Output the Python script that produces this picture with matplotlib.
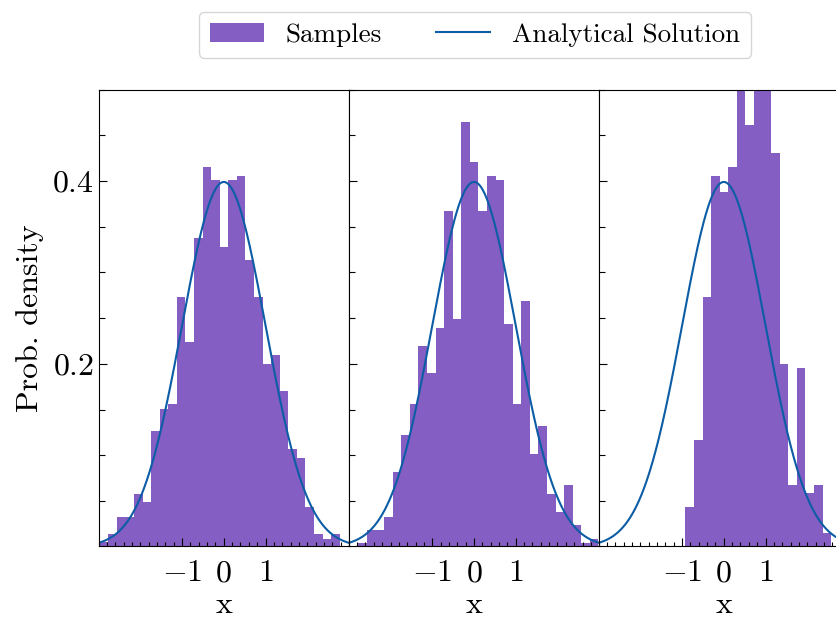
import numpy as np
import matplotlib
matplotlib.use("Agg")
import matplotlib.pyplot as plt
from matplotlib.ticker import MultipleLocator, FixedLocator

# ========== 字体 / 样式 ==========
plt.rcParams['font.family'] = 'serif'
plt.rcParams['font.serif'] = ['cmr10']
plt.rcParams['mathtext.fontset'] = 'cm'
plt.rcParams['axes.formatter.use_mathtext'] = True
plt.rcParams['axes.unicode_minus'] = True

BAR_COLOR = '#845EC2'
LINE_COLOR = '#0C5DA5'

# ========== 数据 ==========
bin_width = 0.2054

# 面板 1
p1_start = -2.975
p1_heights = [0.0055, 0.0139, 0.033, 0.033, 0.058, 0.0487, 0.1264, 0.1505,
              0.156, 0.2736, 0.2242, 0.3374, 0.4154, 0.4007, 0.3275, 0.4007,
              0.4055, 0.3132, 0.2736, 0.2, 0.2099, 0.1703, 0.1066, 0.097,
              0.0432, 0.0139, 0.0091, 0.0139]

# 面板 2
p2_start = -2.77
p2_heights = [0.0044, 0.0187, 0.0187, 0.033, 0.0824, 0.122, 0.156, 0.2198,
              0.1905, 0.2396, 0.367, 0.2495, 0.4648, 0.4209, 0.367, 0.4055,
              0.4007, 0.244, 0.156, 0.2692, 0.1018, 0.1319, 0.058, 0.0385,
              0.0678, 0.0238, 0.0044, 0.0088]

# 面板 3（三个柱子超出上边界）
p3_start = -0.918
p3_heights = [0.0432, 0.1165, 0.2736, 0.4055, 0.3875, 0.415, 0.55, 0.4608,
              0.61, 0.59, 0.4308, 0.2, 0.0681, 0.1952, 0.0586, 0.0681, 0.0147]

panels = [(p1_start, p1_heights), (p2_start, p2_heights), (p3_start, p3_heights)]

# 解析解：标准正态分布
mu, sigma = 0.0, 1.0
x_curve = np.linspace(-3.5, 3.5, 500)
y_curve = np.exp(-0.5 * ((x_curve - mu) / sigma) ** 2) / (sigma * np.sqrt(2 * np.pi))

# ========== 绘图 ==========
W, H = 837, 621
fig = plt.figure(figsize=(W / 100, H / 100), dpi=100)

ax_w = 250.4 / W
ax_b = (H - 546) / H
ax_h = (546 - 89.5) / H
lefts = [98.6, 348.8, 598.6]

axes = []
for i, (start, heights) in enumerate(panels):
    ax = fig.add_axes([lefts[i] / W, ax_b, ax_w, ax_h],
                      sharey=axes[0] if axes else None)
    axes.append(ax)
    heights = np.array(heights)
    edges = start + bin_width * np.arange(len(heights) + 1)
    centers = 0.5 * (edges[:-1] + edges[1:])
    ax.hist(centers, bins=edges, weights=heights, color=BAR_COLOR,
            label='Samples')
    ax.plot(x_curve, y_curve, color=LINE_COLOR, lw=1.5,
            label='Analytical Solution')

    ax.set_xlim(-3, 3)
    ax.set_ylim(0.001, 0.5)
    ax.xaxis.set_major_locator(FixedLocator([-1, 0, 1]))
    ax.set_xticklabels([r'$-1$', r'$0$', r'$1$'])
    ax.xaxis.set_minor_locator(MultipleLocator(0.2))
    ax.yaxis.set_major_locator(FixedLocator([0.2, 0.4]))
    ax.yaxis.set_minor_locator(MultipleLocator(0.05))
    ax.tick_params(which='both', direction='in', top=False, right=False,
                   labelsize=23, width=0.8)
    ax.tick_params(which='major', length=6)
    ax.tick_params(axis='x', which='major', pad=10)
    ax.tick_params(axis='x', which='minor', length=3)
    ax.tick_params(axis='y', which='minor', length=4)
    ax.set_xlabel('x', fontsize=23, labelpad=3)
    if i == 0:
        ax.set_yticklabels([r'$0.2$', r'$0.4$'])
        ax.set_ylabel('Prob. density', fontsize=23, labelpad=6)
    else:
        ax.tick_params(axis='y', labelleft=False)

handles, labels = axes[0].get_legend_handles_labels()
fig.legend(handles, labels, loc='upper center', ncol=2,
           bbox_to_anchor=(475 / W, 1 - 12 / H), borderaxespad=0,
           fontsize=19.5, frameon=True)

fig.savefig('out.png', dpi=100)
